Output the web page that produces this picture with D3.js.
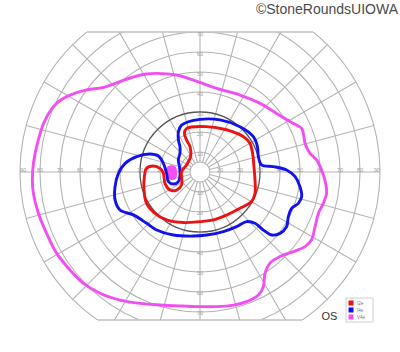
<!DOCTYPE html>
<html>
<head>
<meta charset="utf-8">
<script src="https://cdn.jsdelivr.net/npm/d3@7"></script>
<style>
  body { margin: 0; background: #fff; }
  svg { display: block; font-family: "Liberation Sans", Arial, sans-serif; }
</style>
</head>
<body>
<svg class="champ"></svg>
<script>

//DONNEES---------------------------------------------------
//[méridien (degrés, 0 = droite, sens anti-horaire), excentricité (degrés)]
//-------------------------------------------------------

let isoI2e = [
  [107,22.8],[82,22.9],[58,24.9],[39,28],[30,28.8],[19.5,27.9],[5.7,27.1],
  [-8.3,27.8],[-21.3,29.5],[-29.8,29.7],[-42.3,27],[-58.3,25.3],[-74.4,24.9],
  [-90,24.8],[-108.2,26.6],[-124.8,29.2],[-137.4,30.6],[-149.5,31],[-162.2,29.4],
  [-175.3,27.9],[176.1,26.8],[172.7,23.5],[174.9,20.1],[182.2,18.3],[198,18.4],
  [211,17.5],[217.6,14.8],[215.2,11.3],[199.2,9.7],[178.8,9.2],[152.4,7.6],
  [121.4,9],[111.5,13.6],[112.7,17.3],[112,20.8]
];

let isoI4e = [
  [111.4,25.2],[90,26.3],[69,27.9],[48.6,30.2],[33.5,32],[23.9,31.4],[14.8,30.2],
  [6.5,31],[4.2,36.8],[1.3,43.3],[-2.8,47.6],[-8.3,50.5],[-13.6,52.3],[-17.7,51.6],
  [-21.7,49.3],[-26.8,49.5],[-32.2,51.2],[-37.5,50.4],[-41.3,47.7],[-42.5,43],
  [-43,37.6],[-46.8,34],[-56.2,32.9],[-68.6,32],[-84,31.7],[-95.9,32.2],
  [-112.9,34.2],[-126.8,36.2],[-136.1,37],[-147.2,39.6],[-154.6,44.3],[-161.8,44.7],
  [-170.2,43.1],[-179,40.8],[173.4,37.7],[166.3,32.6],[160.2,26.6],[159,22.3],
  [166.8,18.8],[182.4,16.7],[196.9,16.5],[204.3,14.6],[204,11.8],[184,10],
  [165.3,10.6],[150.9,12.4],[137.1,13.7],[128.2,16.2],[124,19.3],[118.1,22.9]
];

let isoV4e = [
  [113.8,53.9],[103.6,49.9],[94.1,46.1],[78.8,42.6],[62.5,43.4],[48.8,45.6],
  [37.4,48.2],[27.5,52.6],[23.2,55.3],[18.8,54.9],[15.3,54.4],[9.6,55.8],
  [5.9,58.6],[0.9,60.8],[-3.7,62.6],[-9.6,64.2],[-14.3,63.6],[-19.3,62.7],
  [-25.4,63.7],[-31.4,65.3],[-35.4,64.4],[-40.4,61.4],[-46.6,58.2],[-52.6,57.5],
  [-57.3,60.2],[-61.1,65.5],[-64.6,68.1],[-70.2,68.9],[-75.9,68.6],[-83,67.8],
  [-90,67.3],[-98.5,67.7],[-106.7,69.4],[-114.5,72.2],[-122,75.5],[-129.5,78.6],
  [-136.3,80.6],[-143,81.4],[-150.4,82.4],[-158.2,82.6],[-165.6,83.4],[-172.7,84],
  [-177.3,83.9],[177,83.4],[168.8,82.4],[161.5,81.7],[154.4,79.5],[149.4,75.5],
  [144.1,70],[138.8,64.2],[131.5,60.4],[123.4,57.5],[118.6,55.8]
];

//tache aveugle (V4e)
let tacheV4e = [
  [171.3,16.5],[167.8,12.8],[184.8,11.8],[194.6,12.7],[193.1,15.4],[183.5,16.5]
];

let cercles = [10, 20, 30, 40, 50, 60, 70, 80, 90];
let meridiens = d3.range(0, 360, 15);
let etiquettesH = [10, 20, 30, 40, 50, 60, 70, 80, 90];
let etiquettesV = [10, 20, 30, 40, 50, 60, 70];

let legende = [
  {nom: "I2e", couleur: "#ee1111"},
  {nom: "I4e", couleur: "#1111ee"},
  {nom: "V4e", couleur: "#f24ef2"}
];


//GRILLE---------------------------------------------------
//-------------------------------------------------------

let w = 400;
let h = 352;
let cx = 200;
let cy = 172;

let svg = d3.select(".champ")
  .attr("width", w)
  .attr("height", h);

//Echelle excentricité -> pixels
let r = d3.scaleLinear().domain([0, 90]).range([0, 180]);

let haut = 70;
let bas = 74;

svg.append("clipPath")
    .attr("id", "coupe")
  .append("rect")
    .attr("x", 0)
    .attr("y", cy - r(haut))
    .attr("width", w)
    .attr("height", r(haut) + r(bas));

let g = svg.append("g")
  .attr("transform", "translate(" + cx + "," + cy + ")");

let grille = g.append("g")
  .attr("clip-path", "url(#coupe)")
  .attr("transform", "translate(" + (-cx) + "," + (-cy) + ")")
  .append("g")
  .attr("transform", "translate(" + cx + "," + cy + ")");

grille.selectAll(".meridien")
  .data(meridiens)
  .enter().append("line")
    .attr("class", "meridien")
    .attr("x1", function(d) { return r(5) * Math.cos(d * Math.PI / 180); })
    .attr("y1", function(d) { return -r(5) * Math.sin(d * Math.PI / 180); })
    .attr("x2", function(d) { return r(90) * Math.cos(d * Math.PI / 180); })
    .attr("y2", function(d) { return -r(90) * Math.sin(d * Math.PI / 180); })
    .attr("stroke", "#b4b4b4")
    .attr("stroke-width", 1.1);

grille.selectAll(".cercle")
  .data([5].concat(cercles))
  .enter().append("circle")
    .attr("class", "cercle")
    .attr("r", function(d) { return r(d); })
    .attr("fill", "none")
    .attr("stroke", function(d) { return d === 30 ? "#555" : "#b4b4b4"; })
    .attr("stroke-width", function(d) { return d === 30 ? 1.3 : 1.1; });

//bords haut et bas
[-r(haut), r(bas)].forEach(function(y) {
  let demi = Math.sqrt(r(90) * r(90) - y * y);
  g.append("line")
    .attr("x1", -demi).attr("x2", demi)
    .attr("y1", y).attr("y2", y)
    .attr("stroke", "#c0c0c0")
    .attr("stroke-width", 1.5);
});

//Etiquettes des axes
let styleEtiq = function(sel) {
  sel.attr("font-size", 5.5)
    .attr("fill", "#9c9c9c")
    .attr("text-anchor", "middle")
    .attr("dy", "0.35em");
};

g.selectAll(".etiqG")
  .data(etiquettesH)
  .enter().append("text")
    .attr("x", function(d) { return d === 90 ? -r(d) + 3 : -r(d); })
    .attr("y", -1.5)
    .text(function(d) { return d; })
    .call(styleEtiq);

g.selectAll(".etiqD")
  .data(etiquettesH)
  .enter().append("text")
    .attr("x", function(d) { return d === 90 ? r(d) - 3 : r(d); })
    .attr("y", -1.5)
    .text(function(d) { return d; })
    .call(styleEtiq);

g.selectAll(".etiqH")
  .data(etiquettesV)
  .enter().append("text")
    .attr("x", 0)
    .attr("y", function(d) { return -r(d) + 2.5; })
    .text(function(d) { return d; })
    .call(styleEtiq);

g.selectAll(".etiqB")
  .data(etiquettesV)
  .enter().append("text")
    .attr("x", 0)
    .attr("y", function(d) { return r(d) + 1.5; })
    .text(function(d) { return d; })
    .call(styleEtiq);


//ISOPTERES------------------------------------------------
//-------------------------------------------------------

let ligne = d3.lineRadial()
  .angle(function(d) { return (90 - d[0]) * Math.PI / 180; })
  .radius(function(d) { return r(d[1]); })
  .curve(d3.curveCatmullRomClosed.alpha(0.5));

g.append("path")
  .attr("d", ligne(tacheV4e))
  .attr("fill", legende[2].couleur)
  .attr("stroke", legende[2].couleur)
  .attr("stroke-width", 1);

[isoV4e, isoI4e, isoI2e].forEach(function(iso, i) {
  g.append("path")
    .attr("d", ligne(iso))
    .attr("fill", "none")
    .attr("stroke", legende[2 - i].couleur)
    .attr("stroke-width", 2.9)
    .attr("stroke-linejoin", "round");
});


//LEGENDE--------------------------------------------------
//-------------------------------------------------------

let leg = svg.append("g")
  .attr("transform", "translate(346,298)");

leg.append("rect")
  .attr("width", 27)
  .attr("height", 24)
  .attr("fill", "#fff")
  .attr("stroke", "#cfcfcf")
  .attr("stroke-width", 1);

leg.selectAll(".carre")
  .data(legende)
  .enter().append("rect")
    .attr("x", 2.5)
    .attr("y", function(d, i) { return 2.5 + i * 7; })
    .attr("width", 5)
    .attr("height", 5)
    .attr("fill", function(d) { return d.couleur; });

leg.selectAll(".nom")
  .data(legende)
  .enter().append("text")
    .attr("x", 11)
    .attr("y", function(d, i) { return 5 + i * 7; })
    .attr("dy", "0.35em")
    .attr("font-size", 4.5)
    .attr("fill", "#777")
    .text(function(d) { return d.nom; });

svg.append("text")
  .attr("x", 321.5)
  .attr("y", 320)
  .attr("font-size", 11)
  .attr("fill", "#333")
  .text("OS");

svg.append("text")
  .attr("x", 398)
  .attr("y", 13.5)
  .attr("text-anchor", "end")
  .attr("font-size", 14)
  .attr("fill", "#4a4a4a")
  .text("©StoneRoundsUIOWA");

</script>
</body>
</html>
